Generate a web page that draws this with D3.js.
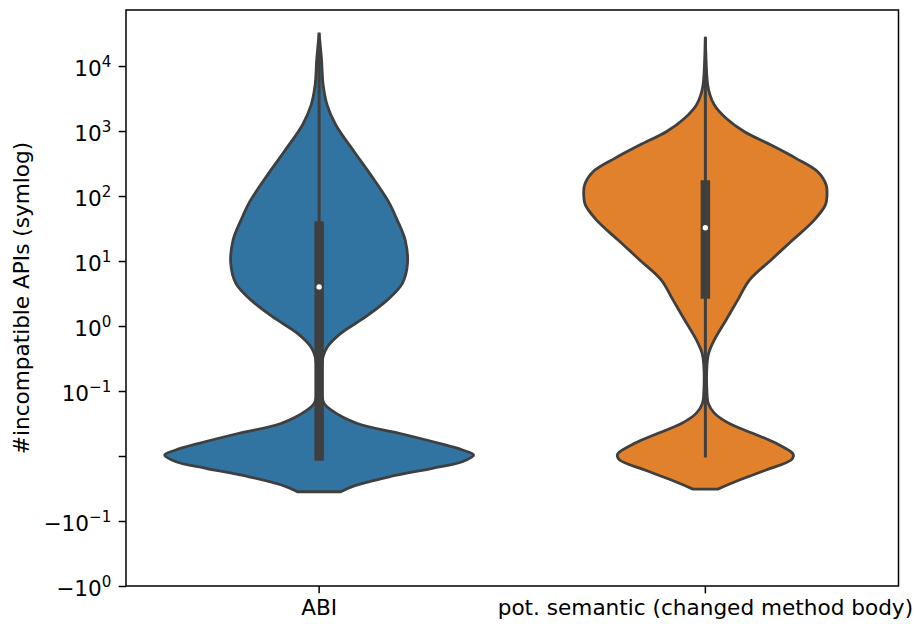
<!DOCTYPE html>
<html>
<head>
<meta charset="utf-8">
<script src="https://cdn.jsdelivr.net/npm/d3@7"></script>
<style>
  body { margin: 0; background: #ffffff; }
  text { font-family: "DejaVu Sans", sans-serif; fill: #000; }
</style>
</head>
<body>
<svg id="chart" width="915" height="624"></svg>
<script>
// Categories and fill colours
const categories = ["ABI", "pot. semantic (changed method body)"];
const fillColors = ["#3274a1", "#e1812c"];

// Violin outlines: [value, relative half-width (1 = widest violin)]
const abiOutline = [
  [31000, 0], [13100, 0.015], [5100, 0.026], [2500, 0.052], [1240, 0.108],
  [480, 0.227], [210, 0.335], [82, 0.449], [43, 0.505], [21, 0.557],
  [9.2, 0.572], [4.5, 0.538], [2.5, 0.44], [1.39, 0.302], [0.77, 0.14],
  [0.48, 0.054], [0.34, 0.026], [0.18, 0.013], [0.10, 0.012], [0.081, 0.032],
  [0.071, 0.076], [0.050, 0.248], [0.035, 0.518], [0.0195, 0.777], [0.0092, 0.928],
  [0.0015, 1.0], [-0.0088, 0.926], [-0.019, 0.732], [-0.032, 0.453], [-0.047, 0.214],
  [-0.055, 0.14]
];
const semanticOutline = [
  [26800, 0], [5100, 0.015], [3580, 0.03], [2510, 0.058], [1570, 0.134],
  [975, 0.253], [609, 0.425], [380, 0.587], [237, 0.727], [148, 0.782],
  [100, 0.787], [73, 0.777], [43, 0.706], [21, 0.565], [10.4, 0.425],
  [5.1, 0.285], [2.5, 0.209], [1.24, 0.134], [0.61, 0.058], [0.38, 0.021],
  [0.24, 0.01], [0.10, 0.01], [0.081, 0.019], [0.066, 0.058], [0.050, 0.155],
  [0.035, 0.306], [0.0195, 0.458], [0.0042, 0.565], [0, 0.57], [-0.0062, 0.555],
  [-0.0215, 0.393], [-0.037, 0.22], [-0.051, 0.08]
];
const outlines = [abiOutline, semanticOutline];

// Inner box statistics
const whiskerLow = [0, 0];
const quartile1 = [0, 3.1];
const medians = [4.0, 32.5];
const quartile3 = [34.5, 148];
const whiskerHigh = [31000, 26800];

// Y axis ticks (symlog, linear threshold 0.1)
const yTickValues = [-1, -0.1, 0, 0.1, 1, 10, 100, 1000, 10000];
const yTickBases = ["\u221210", "\u221210", "", "10", "10", "10", "10", "10", "10"];
const yTickExponents = ["0", "\u22121", "", "\u22121", "0", "1", "2", "3", "4"];
const yLabel = "#incompatible APIs (symlog)";
const yMin = -1, yMax = 72800;

const svg = d3.select("#chart");
const plotLeft = 126, plotRight = 898.5, plotTop = 10, plotBottom = 586;
const fontSize = 21.6;
const tickLen = 7.3;

const linthresh = 0.1;
function symlog(v) {
  const a = Math.abs(v);
  return a <= linthresh ? v / linthresh : Math.sign(v) * (1 + Math.log10(a / linthresh));
}
const yLin = d3.scaleLinear().domain([symlog(yMin), symlog(yMax)]).range([plotBottom, plotTop]);
const y = v => yLin(symlog(v));

const x = d3.scaleBand().domain(categories).range([plotLeft, plotRight]).padding(0);
const center = c => x(c) + x.bandwidth() / 2;
const halfWidth = d3.scaleLinear().domain([0, 1]).range([0, 0.4 * x.bandwidth()]);

const outlineColor = "#3f3f3f";

// Violins
categories.forEach((c, i) => {
  const cx = center(c);
  const area = d3.area()
    .y(d => y(d[0]))
    .x0(d => cx - halfWidth(d[1]))
    .x1(d => cx + halfWidth(d[1]))
    .curve(d3.curveCatmullRom.alpha(0.5));
  svg.append("path")
    .attr("d", area(outlines[i]))
    .attr("fill", fillColors[i])
    .attr("stroke", outlineColor)
    .attr("stroke-width", 2.8)
    .attr("stroke-linejoin", "round");

  // whisker
  svg.append("line")
    .attr("x1", cx).attr("x2", cx)
    .attr("y1", y(whiskerLow[i])).attr("y2", y(whiskerHigh[i]))
    .attr("stroke", outlineColor).attr("stroke-width", 3)
    .attr("stroke-linecap", "square");
  // box
  svg.append("line")
    .attr("x1", cx).attr("x2", cx)
    .attr("y1", y(quartile1[i])).attr("y2", y(quartile3[i]))
    .attr("stroke", outlineColor).attr("stroke-width", 9.5)
    .attr("stroke-linecap", "square");
  // median
  svg.append("circle")
    .attr("cx", cx).attr("cy", y(medians[i])).attr("r", 2.7)
    .attr("fill", "#ffffff");
});

// Frame
svg.append("rect")
  .attr("x", plotLeft).attr("y", plotTop)
  .attr("width", plotRight - plotLeft).attr("height", plotBottom - plotTop)
  .attr("fill", "none").attr("stroke", "#000").attr("stroke-width", 1.5);

// Y axis ticks
const yAxis = d3.axisLeft(yLin)
  .tickValues(yTickValues.map(symlog))
  .tickSize(tickLen)
  .tickFormat("");
const gy = svg.append("g").attr("transform", `translate(${plotLeft},0)`).call(yAxis);
gy.select(".domain").remove();
gy.selectAll(".tick line").attr("stroke", "#000").attr("stroke-width", 1.5);

yTickValues.forEach((v, i) => {
  if (!yTickBases[i]) return;
  const t = svg.append("text")
    .attr("x", plotLeft - 2 * tickLen)
    .attr("y", y(v) + 9.8)
    .attr("text-anchor", "end")
    .style("font-size", fontSize + "px");
  t.append("tspan").text(yTickBases[i]);
  t.append("tspan")
    .attr("dy", -9.3)
    .style("font-size", (fontSize * 0.7) + "px")
    .text(yTickExponents[i]);
});

// X axis
const xAxis = d3.axisBottom(x).tickSize(tickLen).tickPadding(6.8);
const gx = svg.append("g").attr("transform", `translate(0,${plotBottom})`).call(xAxis);
gx.select(".domain").remove();
gx.selectAll(".tick line").attr("stroke", "#000").attr("stroke-width", 1.5);
gx.selectAll(".tick text")
  .style("font-size", fontSize + "px")
  .style("font-family", "DejaVu Sans, sans-serif")
  .attr("fill", "#000");

// Y label
svg.append("text")
  .attr("transform", `translate(29,${(plotTop + plotBottom) / 2}) rotate(-90)`)
  .attr("text-anchor", "middle")
  .style("font-size", fontSize + "px")
  .text(yLabel);
</script>
</body>
</html>
